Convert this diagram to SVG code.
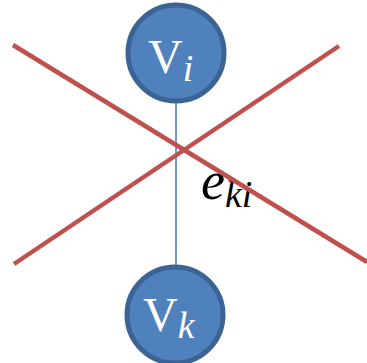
<svg xmlns="http://www.w3.org/2000/svg" width="367" height="363" viewBox="0 0 367 363">
<style>
.node{fill:#4F81BD;stroke:#3B6394;stroke-width:5}
.lbl{font-family:"Liberation Serif","DejaVu Serif",serif;fill:#fff}
.sub{font-style:italic}
.edge{stroke:#4F81BD;stroke-width:1.6}
.cross{stroke:#C0504D;stroke-width:4.5;stroke-linecap:butt}
</style>
<rect width="367" height="363" fill="#fff"/>
<g id="connectors">
<line class="edge" x1="176" y1="102" x2="176" y2="266"/>
</g>
<g id="node-vi">
<circle class="node" cx="176" cy="53" r="48"/>
<text class="lbl" x="148" y="73" font-size="48">V<tspan class="sub" font-size="38" dy="8">i</tspan></text>
</g>
<g id="node-vk">
<circle class="node" cx="175" cy="315" r="48"/>
<text class="lbl" x="143" y="331" font-size="48">V<tspan class="sub" font-size="38" dy="7">k</tspan></text>
</g>
<g id="edge-label">
<text x="201" y="199" font-family="Liberation Serif,'DejaVu Serif',serif" font-style="italic" font-size="54" fill="#000">e<tspan font-size="38" dy="8">ki</tspan></text>
</g>
<g id="cross">
<line class="cross" x1="13" y1="45" x2="367" y2="262"/>
<line class="cross" x1="14" y1="264" x2="339" y2="46"/>
</g>
</svg>
